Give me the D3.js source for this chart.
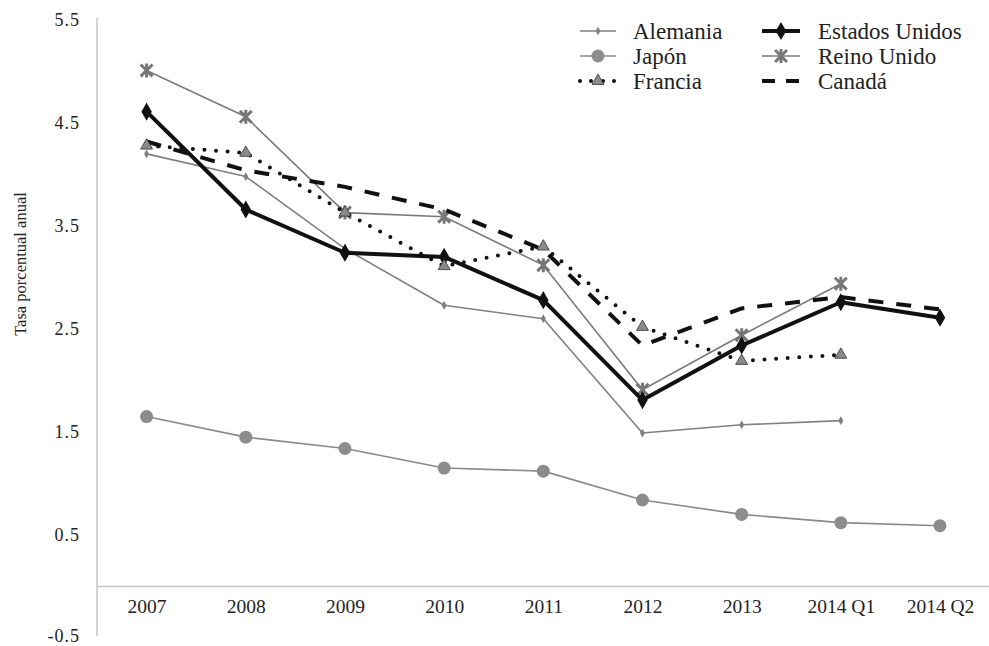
<!DOCTYPE html>
<html>
<head>
<meta charset="utf-8">
<script src="https://cdn.jsdelivr.net/npm/d3@7"></script>
<style>
  body { margin: 0; background: #fff; }
  svg text { font-family: "Liberation Serif", "Times New Roman", serif !important; }
</style>
</head>
<body>
<script>
// data
const periods = ["2007", "2008", "2009", "2010", "2011", "2012", "2013", "2014 Q1", "2014 Q2"];
const yTicks = [-0.5, 0.5, 1.5, 2.5, 3.5, 4.5, 5.5];

const alemania = [4.20, 3.98, 3.28, 2.73, 2.60, 1.49, 1.57, 1.61, null];
const japon = [1.65, 1.45, 1.34, 1.15, 1.12, 0.84, 0.70, 0.62, 0.59];
const francia = [4.28, 4.21, 3.63, 3.11, 3.30, 2.52, 2.19, 2.25, null];
const estadosUnidos = [4.61, 3.66, 3.24, 3.20, 2.78, 1.81, 2.34, 2.76, 2.61];
const reinoUnido = [5.01, 4.56, 3.63, 3.59, 3.12, 1.91, 2.44, 2.94, null];
const canada = [4.32, 4.04, 3.88, 3.66, 3.27, 2.34, 2.70, 2.81, 2.69];

const w = 989;
const h = 646;

const series = [
    { name: "Alemania", values: alemania, color: "#808080", width: 1.6, dash: null, marker: "smallDiamond" },
    { name: "Japón", values: japon, color: "#8a8a8a", width: 1.6, dash: null, marker: "circle" },
    { name: "Francia", values: francia, color: "#111", width: 4, dash: "0,11.6", marker: "triangle" },
    { name: "Estados Unidos", values: estadosUnidos, color: "#111", width: 4, dash: null, marker: "diamond" },
    { name: "Reino Unido", values: reinoUnido, color: "#7a7a7a", width: 1.6, dash: null, marker: "star" },
    { name: "Canadá", values: canada, color: "#111", width: 4, dash: "15,13", marker: null },
];

const svg = d3
    .select("body")
    .append("svg")
    .attr("width", w)
    .attr("height", h);

const x = d3
    .scalePoint()
    .domain(periods)
    .range([146.6, 940])
    .padding(0);

const y = d3
    .scaleLinear()
    .domain([-0.5, 5.5])
    .range([638, 20]);

// axes
svg
    .append("line")
    .attr("x1", 97)
    .attr("x2", 97)
    .attr("y1", 18)
    .attr("y2", 636)
    .attr("stroke", "#b8b8b8")
    .attr("stroke-width", 1.2);

svg
    .append("line")
    .attr("x1", 97)
    .attr("x2", w)
    .attr("y1", y(0))
    .attr("y2", y(0))
    .attr("stroke", "#c4c4c4")
    .attr("stroke-width", 1.5);

const yAxis = d3
    .axisLeft(y)
    .tickValues(yTicks)
    .tickFormat(d => d.toFixed(1))
    .tickSize(0)
    .tickPadding(0);

const yg = svg
    .append("g")
    .attr("transform", "translate(80,0)")
    .call(yAxis)
    .call(g => g.select(".domain").remove());
yg.selectAll("text")
    .style("font-size", "18px")
    .attr("fill", "#222")
    .attr("letter-spacing", 1);
// keep the lowest label inside the frame
yg.selectAll(".tick")
    .filter(d => d === -0.5)
    .select("text")
    .attr("dy", "0.2em");

const xAxis = d3.axisBottom(x).tickSize(0).tickPadding(0);

svg
    .append("g")
    .attr("transform", "translate(0,599)")
    .call(xAxis)
    .call(g => g.select(".domain").remove())
    .selectAll("text")
    .style("font-size", "19.5px")
    .attr("fill", "#222");

svg
    .append("text")
    .attr("transform", "translate(20,264) rotate(-90)")
    .attr("text-anchor", "middle")
    .attr("dy", "0.35em")
    .style("font-size", "16.5px")
    .attr("fill", "#222")
    .text("Tasa porcentual anual");

// markers
function drawMarker(g, type, cx, cy) {
    if (type === "smallDiamond") {
        g.append("path")
            .attr("d", d3.symbol(d3.symbolDiamond, 22)())
            .attr("transform", `translate(${cx},${cy})`)
            .attr("fill", "#808080");
    } else if (type === "circle") {
        g.append("circle")
            .attr("cx", cx)
            .attr("cy", cy)
            .attr("r", 6.5)
            .attr("fill", "#8c8c8c");
    } else if (type === "diamond") {
        g.append("path")
            .attr("d", d3.symbol(d3.symbolDiamond, 95)())
            .attr("transform", `translate(${cx},${cy})`)
            .attr("fill", "#111");
    } else if (type === "triangle") {
        g.append("path")
            .attr("d", d3.symbol(d3.symbolTriangle, 62)())
            .attr("transform", `translate(${cx},${cy})`)
            .attr("fill", "#8a8a8a")
            .attr("stroke", "#333")
            .attr("stroke-width", 0.8);
    } else if (type === "star") {
        const r = 7;
        const d = r * 0.85;
        g.append("path")
            .attr("d", `M${cx - d},${cy - d}L${cx + d},${cy + d}M${cx - d},${cy + d}L${cx + d},${cy - d}M${cx},${cy - r}L${cx},${cy + r}`)
            .attr("stroke", "#777")
            .attr("stroke-width", 3)
            .attr("fill", "none");
    }
}

const line = d3
    .line()
    .defined(d => d.v !== null)
    .x(d => x(d.p))
    .y(d => y(d.v));

const drawOrder = ["Japón", "Alemania", "Reino Unido", "Estados Unidos", "Canadá", "Francia"];

drawOrder.forEach(name => {
    const s = series.find(d => d.name === name);
    const pts = periods.map((p, i) => ({ p, v: s.values[i] }));
    const g = svg.append("g");
    g.append("path")
        .datum(pts)
        .attr("d", line)
        .attr("fill", "none")
        .attr("stroke", s.color)
        .attr("stroke-width", s.width)
        .attr("stroke-linecap", s.name === "Francia" ? "round" : "butt")
        .attr("stroke-linejoin", "round")
        .attr("stroke-dasharray", s.dash);
    pts.filter(d => d.v !== null).forEach(d => {
        if (s.marker) drawMarker(g, s.marker, x(d.p), y(d.v));
    });
});

// legend
const legend = svg.append("g");
const legendCols = [580, 762];
const legendRows = [31, 56, 81];

series.forEach((s, i) => {
    const col = Math.floor(i / 3);
    const row = i % 3;
    const x0 = legendCols[col];
    const x1 = x0 + (col === 0 ? 36 : 38);
    const cy = legendRows[row];
    const g = legend.append("g");
    if (s.name === "Francia") {
        [x0, x0 + 11, x0 + 23, x0 + 34].forEach(cx => {
            g.append("circle").attr("cx", cx).attr("cy", cy).attr("r", 2).attr("fill", "#111");
        });
    } else if (s.name === "Canadá") {
        g.append("line")
            .attr("x1", x0).attr("x2", x1)
            .attr("y1", cy).attr("y2", cy)
            .attr("stroke", s.color)
            .attr("stroke-width", 4)
            .attr("stroke-dasharray", "13,11");
    } else {
        g.append("line")
            .attr("x1", x0).attr("x2", x1)
            .attr("y1", cy).attr("y2", cy)
            .attr("stroke", s.color)
            .attr("stroke-width", s.width);
    }
    if (s.marker) drawMarker(g, s.marker, (x0 + x1) / 2, cy);
    g.append("text")
        .attr("x", col === 0 ? 633 : 818)
        .attr("y", cy)
        .attr("dy", "0.35em")
        .style("font-size", "23px")
        .attr("fill", "#222")
        .text(s.name);
});
</script>
</body>
</html>
